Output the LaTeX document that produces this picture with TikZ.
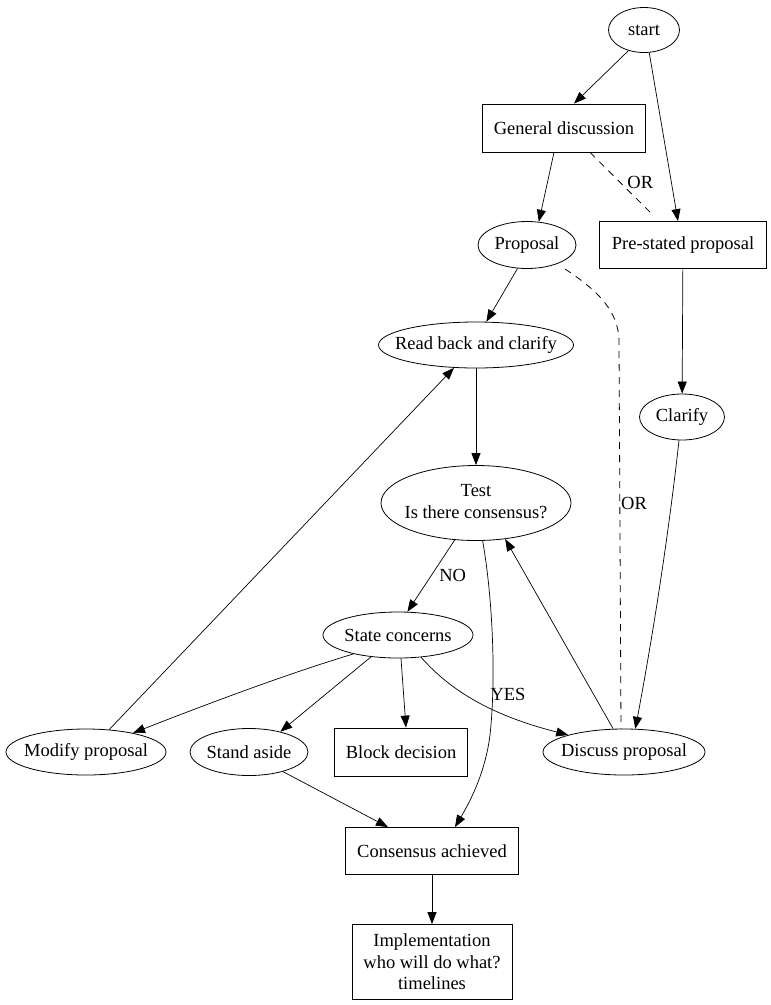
\documentclass[tikz,border=0pt]{standalone}
\usepackage{fontspec}
\setmainfont{Liberation Serif}
\usetikzlibrary{shapes.geometric,arrows.meta,calc}
\newcommand{\zw}[1]{\makebox[0pt]{#1}}
\begin{document}
\begin{tikzpicture}[x=1pt,y=1pt,
  every node/.style={font=\fontsize{18.5}{21.5}\selectfont, inner sep=0pt, align=center},
  ell/.style={draw, ellipse, line width=0.8pt},
  box/.style={draw, rectangle, line width=0.8pt},
  arr/.style={line width=0.7pt, -{Triangle[length=12pt,width=9pt]}},
  dashln/.style={line width=0.8pt, dash pattern=on 7pt off 6pt},
  lbl/.style={font=\fontsize{18.5}{21.5}\selectfont}]
\useasboundingbox (0,0) rectangle (771,-1005);
\node[ell, minimum width=71, minimum height=45] (start) at (644,-30) {\zw{start}};
\node[box, minimum width=163, minimum height=48] (gd) at (564,-128) {General discussion};
\node[ell, minimum width=98, minimum height=47] (prop) at (527,-245) {\zw{Proposal}};
\node[box, minimum width=167, minimum height=47] (psp) at (683,-245) {Pre-stated proposal};
\node[ell, minimum width=195, minimum height=46] (rbc) at (476,-345) {\zw{Read back and clarify}};
\node[ell, minimum width=85, minimum height=46] (clar) at (682,-417) {\zw{Clarify}};
\node[ell, minimum width=190, minimum height=75] (test) at (476,-503) {\zw{\begin{tabular}{@{}c@{}}Test\\Is there consensus?\end{tabular}}};
\node[ell, minimum width=150, minimum height=46] (sc) at (398,-635) {\zw{State concerns}};
\node[ell, minimum width=160, minimum height=46] (mod) at (86,-752) {\zw{Modify proposal}};
\node[ell, minimum width=118, minimum height=47] (stand) at (249,-752) {\zw{Stand aside}};
\node[box, minimum width=133, minimum height=48] (block) at (401,-752) {Block decision};
\node[ell, minimum width=162, minimum height=46] (disc) at (624,-752) {\zw{Discuss proposal}};
\node[box, minimum width=173, minimum height=47] (cons) at (432,-851) {Consensus achieved};
\node[box, minimum width=160, minimum height=75] (impl) at (432,-962) {Implementation\\who will do what?\\timelines};

\draw[arr] (start.233) -- ($(gd.north)+(10,0)$);
\draw[arr] (start.283) -- ($(psp.north)+(-5,0)$);
\draw[arr] ($(gd.south)+(-10,0)$) -- (prop.63);
\draw[dashln] ($(gd.south)+(26,0)$) -- node[lbl, pos=0.5, right=7pt] {OR} ($(psp.north)+(-33,9)$);
\draw[arr] (prop.248) -- (rbc.66);
\draw[dashln] ($(prop)+(38,-24)$) .. controls (600,-292) and (618,-312) .. (619,-340)
   -- node[lbl, pos=0.42, right=1pt] {OR} ($(disc.north)+(-3,0)$);
\draw[arr] (psp) -- (clar);
\draw[arr] (rbc) -- (test);
\draw[arr] ($(clar.south)+(-3,0)$) .. controls (668,-540) and (652,-640) .. (disc.64);
\draw[arr] (test.240) -- node[lbl, midway, right=8pt] {NO} (sc.68);
\draw[arr] (disc.115) -- (test.-51);
\draw[arr] (test.-80) .. controls (493,-600) and (496,-680) .. (490,-735)
   .. controls (485,-775) and (468,-805) .. ($(cons.north)+(23,0)$);
\node[lbl] (yes) at (508,-694) {YES};
\draw[arr] (sc.203) .. controls (300,-670) and (230,-695) .. (mod.22);
\draw[arr] (sc.219) -- (stand.33);
\draw[arr] ($(sc.south)+(3,0)$) -- ($(block.north)+(5,0)$);
\draw[arr] (sc.-44) .. controls (450,-690) and (490,-715) .. (disc.163);
\draw[arr] (mod.44) -- (rbc.226);
\draw[arr] (stand.-30) -- ($(cons.north)+(-44,0)$);
\draw[arr] (cons) -- (impl);
\end{tikzpicture}
\end{document}
